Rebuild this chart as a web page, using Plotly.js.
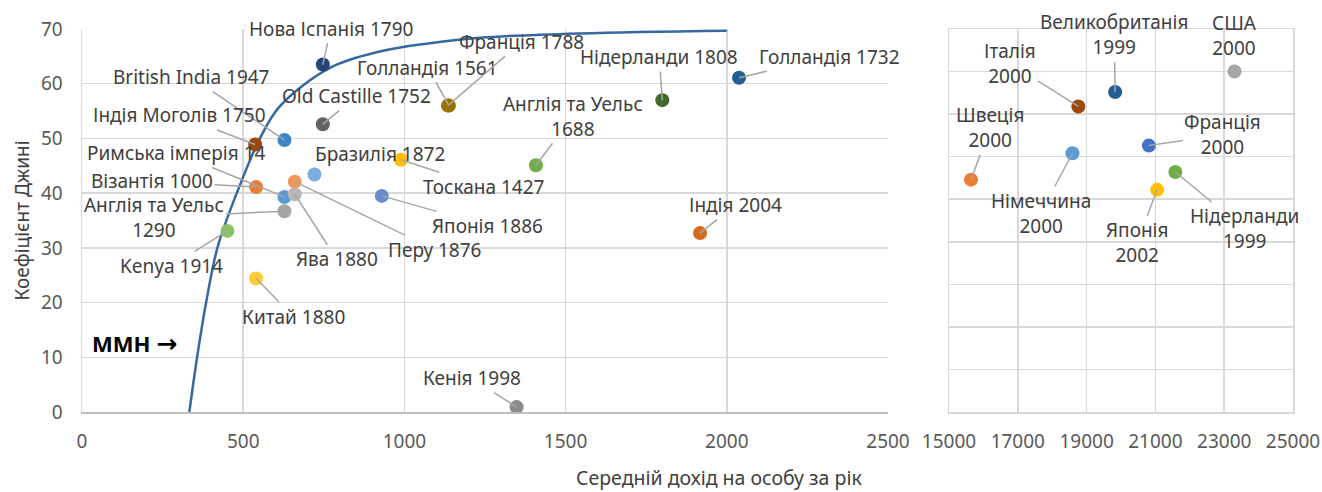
<!DOCTYPE html>
<html><head><meta charset="utf-8">
<script src="https://cdn.plot.ly/plotly-3.0.1.min.js"></script>
<style>html,body{margin:0;padding:0;background:#fff}#chart{width:1322px;height:492px}</style>
</head><body><div id="chart"></div>
<script>
// ---- Data: pre-industrial societies (left panel) ----
const histLabels = ["Нова Іспанія 1790","British India 1947","Old Castille 1752","Індія Моголів 1750",
  "Римська імперія 14","Візантія 1000","Англія та Уельс<br>1290","Kenya 1914","Ява 1880","Перу 1876",
  "Бразилія 1872","Тоскана 1427","Японія 1886","Китай 1880","Кенія 1998","Голландія 1561",
  "Франція 1788","Англія та Уельс<br>1688","Нідерланди 1808","Голландія 1732","Індія 2004"];
const histIncome = [747, 628, 747, 537, 628, 540, 628, 451, 660, 660, 721, 989, 930, 540, 1348, 1138, 1135, 1408, 1800, 2038, 1917];
const histGini   = [63.5, 49.7, 52.6, 48.9, 39.3, 41.1, 36.7, 33.1, 39.8, 42.1, 43.4, 46.1, 39.5, 24.4, 0.9, 56.0, 56.0, 45.1, 57.0, 61.1, 32.7];

// ---- Data: modern societies (right panel) ----
const modLabels = ["США<br>2000","Великобританія<br>1999","Італія<br>2000","Швеція<br>2000",
  "Франція<br>2000","Німеччина<br>2000","Японія<br>2002","Нідерланди<br>1999"];
const modIncome = [23300, 19830, 18760, 15640, 20810, 18590, 21050, 21580];
const modGini   = [40.0, 37.6, 35.9, 27.3, 31.3, 30.4, 26.1, 28.2];

// ---- Data: inequality possibility frontier ----
const curveIncome = [333, 357, 385, 420, 480, 552, 614, 769, 924, 1079, 1234, 1545, 2000];
const curveGini   = [0, 10, 20, 30, 40, 50, 55.9, 62.9, 65.9, 67.4, 68.4, 69.2, 69.7];

// ---- Tick labels ----
const xTicksLeft  = [0, 500, 1000, 1500, 2000, 2500];
const xTicksRight = [15000, 17000, 19000, 21000, 23000, 25000];
const yTicksLeft  = [0, 10, 20, 30, 40, 50, 60, 70];
const yTicksRight = [0, 5, 10, 15, 20, 25, 30, 35, 40, 45];

// ---- Styles / label placement (pixel offsets from point) ----
const histColors = ["#264478","#3d85c6","#636363","#9E480E","#5B9BD5","#ED7D31","#A5A5A5","#8CC168",
  "#B7B7B7","#F1975A","#7CAFDD","#FFC000","#698ED0","#FFCD33","#8C8C8C","#997300","#997300",
  "#70AD47","#43682B","#255E91","#D36A1D"];
const histOffsets = [[8,-36],[-93,-63],[34,-28],[-76,-29],[-108,-44],[-104,-6],[-130,6],[-56,35],
  [42,65],[140,68],[66,-21],[83,27],[106,30],[37,38],[-45,-29],[-21,-38],[74,-64],[37,-49],
  [-3,-43],[90,-21],[35,-28]];
const histLeader = histLabels.map((_, i) => i !== 10);
const modColors = ["#A5A5A5","#255E91","#9E480E","#ED7D31","#4472C4","#5B9BD5","#FFC000","#70AD47"];
const modOffsets = [[0,-36],[-1,-57],[-68,-43],[19,-52],[74,-11],[-32,60],[-20,53],[69,57]];
const modLeader = modLabels.map((_, i) => i !== 0);

const FONT = "Noto Sans, Open Sans, sans-serif";
const labelFont = {family: FONT, size: 19, color: "#404040"};
const tickFont = {family: FONT, size: 19, color: "#595959"};
const grid = "#D9D9D9";

const traces = [
  {x: curveIncome, y: curveGini, type: "scatter", mode: "lines", xaxis: "x", yaxis: "y",
   line: {color: "#3768A0", width: 2.5, shape: "spline", smoothing: 1}, hoverinfo: "skip"},
  {x: histIncome, y: histGini, type: "scatter", mode: "markers", xaxis: "x", yaxis: "y",
   marker: {size: 14, color: histColors}, text: histLabels, cliponaxis: false},
  {x: modIncome, y: modGini, type: "scatter", mode: "markers", xaxis: "x2", yaxis: "y2",
   marker: {size: 14, color: modColors}, text: modLabels, cliponaxis: false}
];

function makeAnn(xs, ys, labels, offs, leader, xref, yref) {
  return labels.map((t, i) => {
    const a = {x: xs[i], y: ys[i], xref: xref, yref: yref, text: t, font: labelFont, align: "center"};
    if (leader[i]) {
      Object.assign(a, {showarrow: true, arrowhead: 0, arrowwidth: 1.5, arrowcolor: "#A6A6A6",
        ax: offs[i][0], ay: offs[i][1], standoff: 0, borderpad: 1});
    } else {
      Object.assign(a, {showarrow: false, xshift: offs[i][0], yshift: -offs[i][1]});
    }
    return a;
  });
}

const annotations = [
  ...makeAnn(histIncome, histGini, histLabels, histOffsets, histLeader, "x", "y"),
  ...makeAnn(modIncome, modGini, modLabels, modOffsets, modLeader, "x2", "y2"),
  {x: 163, y: 12.7, xref: "x", yref: "y",
   text: "<b>ММН <span style=\"font-family:'DejaVu Sans';font-weight:bold;font-size:25px\">→</span></b>", showarrow: false,
   font: {family: FONT, size: 22, color: "#000000"}},
  {x: 0.5264, y: -0.172, xref: "paper", yref: "paper", text: "Середній дохід на особу за рік",
   showarrow: false, yanchor: "middle", font: {family: FONT, size: 19.5, color: "#404040"}}
];

const layout = {
  width: 1322, height: 492,
  margin: {l: 82, r: 29, t: 29, b: 80},
  paper_bgcolor: "#ffffff", plot_bgcolor: "#ffffff",
  showlegend: false,
  font: {family: FONT, color: "#404040"},
  xaxis: {domain: [0, 806/1211], range: [0, 2500], tickvals: xTicksLeft, ticktext: xTicksLeft.map(String),
    showgrid: true, gridcolor: grid, gridwidth: 1.5, zeroline: false,
    showline: true, linecolor: "#BFBFBF", linewidth: 1.5,
    ticks: "outside", ticklen: 12, tickcolor: "rgba(0,0,0,0)", tickfont: tickFont, anchor: "y"},
  yaxis: {domain: [0, 1], range: [0, 70], tickvals: yTicksLeft, ticktext: yTicksLeft.map(String),
    showgrid: true, gridcolor: grid, gridwidth: 1.5, zeroline: false,
    showline: true, linecolor: grid, linewidth: 1.5,
    ticks: "outside", ticklen: 14, tickcolor: "rgba(0,0,0,0)", tickfont: tickFont, anchor: "x",
    title: {text: "Коефіцієнт Джині", font: {family: FONT, size: 19, color: "#404040"}, standoff: 6}},
  xaxis2: {domain: [867/1211, 1], range: [15000, 25000], tickvals: xTicksRight, ticktext: xTicksRight.map(String),
    showgrid: true, gridcolor: grid, gridwidth: 1.5, zeroline: false,
    showline: true, mirror: true, linecolor: grid, linewidth: 1.5,
    ticks: "outside", ticklen: 12, tickcolor: "rgba(0,0,0,0)", tickfont: tickFont, anchor: "y2"},
  yaxis2: {domain: [0, 1], range: [0, 45], tickvals: yTicksRight, showticklabels: false,
    showgrid: true, gridcolor: grid, gridwidth: 1.5, zeroline: false,
    showline: true, mirror: true, linecolor: grid, linewidth: 1.5, anchor: "x2"},
  annotations: annotations
};

Plotly.newPlot("chart", traces, layout, {staticPlot: true});
</script>
</body></html>
